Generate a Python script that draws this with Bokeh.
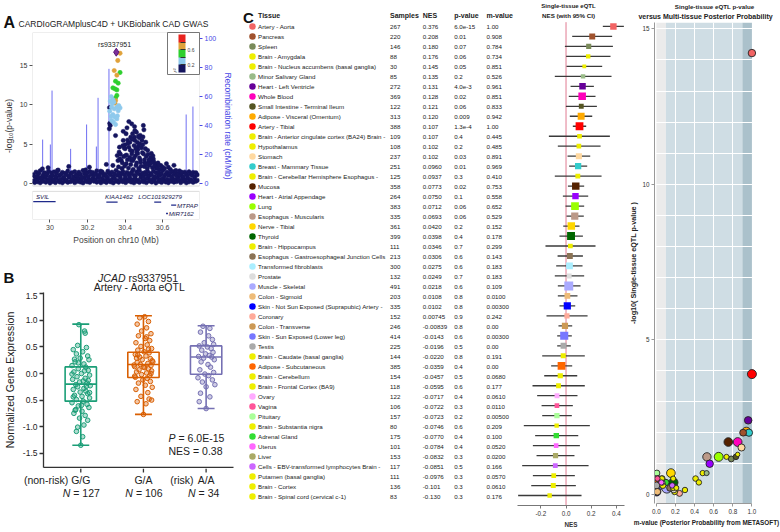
import math
from bokeh.plotting import figure
from bokeh.models import (Range1d, LinearAxis, FixedTicker, ColorBar,
                          LinearColorMapper, ColumnDataSource, BoxAnnotation)
from bokeh.layouts import row, column
from bokeh.core.properties import value
from bokeh.embed import file_html
from bokeh.resources import INLINE

FONT = "Liberation Sans"

# ===================== DATA =====================
# ---- Panel A: regional association plot (chr10, Mb ; -log10 p) ----
lead_snp = "rs9337951"
lead_pos = [30.353]
lead_logp = [16.62]

ld_pos = [30.373, 30.361, 30.342, 30.373, 30.356, 30.349, 30.363, 30.335, 30.346, 30.356,
          30.356, 30.349, 30.349, 30.346,
          30.326, 30.335, 30.321, 30.331, 30.366, 30.356, 30.373, 30.328, 30.342, 30.318,
          30.335, 30.325, 30.346, 30.359, 30.356, 30.328, 30.349, 30.338, 30.363, 30.340]
ld_logp = [16.49, 15.57, 14.30, 14.05, 13.71, 12.95, 12.70, 12.11, 11.98, 11.85,
           11.14, 10.84, 10.50, 10.17,
           11.00, 10.60, 10.43, 10.09, 9.87, 9.66, 9.57, 9.66, 9.45, 9.15,
           8.73, 8.48, 8.40, 8.56, 8.18, 7.97, 7.47, 7.76, 9.20, 10.30]
ld_r2 = [0.7, 0.7, 0.7, 0.5, 0.7, 0.5, 0.5, 0.5, 0.5, 0.5,
         0.5, 0.5, 0.7, 0.7,
         0.3, 0.3, 0.3, 0.3, 0.3, 0.3, 0.3, 0.3, 0.3, 0.3,
         0.3, 0.3, 0.3, 0.3, 0.3, 0.3, 0.3, 0.3, 0.3, 0.3]

bg_pos = [29.912, 29.919, 29.926, 29.934, 29.941, 29.948, 29.956, 29.963, 29.970, 29.978,
          29.985, 29.992, 30.000, 30.007, 30.014, 30.022, 30.029, 30.036, 30.044, 30.051,
          30.058, 30.066, 30.073, 30.080, 30.088, 30.095, 30.102, 30.110, 30.117, 30.124,
          30.132, 30.139, 30.146, 30.154, 30.161, 30.168, 30.176, 30.183, 30.190, 30.198,
          30.205, 30.212, 30.220, 30.227, 30.234, 30.242, 30.249, 30.256, 30.264, 30.271,
          30.278, 30.286, 30.293, 30.300, 30.308, 30.315, 30.322, 30.330, 30.337, 30.344,
          30.352, 30.359, 30.366, 30.374, 30.381, 30.388, 30.396, 30.403, 30.410, 30.418,
          30.425, 30.432, 30.440, 30.447, 30.454, 30.462, 30.469, 30.476, 30.484, 30.491,
          30.498, 30.506, 30.513, 30.520, 30.528, 30.535, 30.542, 30.550, 30.557, 30.564,
          30.572, 30.579, 30.586, 30.594, 30.601, 30.608, 30.616, 30.623, 30.630, 30.638,
          30.645, 30.652, 30.660, 30.667, 30.674, 30.682, 30.689, 30.696, 30.704, 30.711,
          30.718, 30.726, 30.733, 30.740, 30.748, 30.755, 30.762, 30.770, 30.777, 30.785]
bg_logp_low = [0.31, 0.12, 0.55, 0.22, 0.68, 0.09, 0.41, 0.27, 0.73, 0.15,
               0.48, 0.33, 0.06, 0.61, 0.25, 0.44, 0.11, 0.70, 0.36, 0.19,
               0.52, 0.08, 0.63, 0.29, 0.42, 0.14, 0.77, 0.23, 0.50, 0.35,
               0.10, 0.58, 0.26, 0.66, 0.18, 0.45, 0.07, 0.71, 0.32, 0.21,
               0.54, 0.13, 0.39, 0.62, 0.28, 0.47, 0.16, 0.74, 0.30, 0.09,
               0.57, 0.24, 0.43, 0.12, 0.69, 0.34, 0.20, 0.51, 0.07, 0.65,
               0.27, 0.40, 0.15, 0.72, 0.37, 0.22, 0.56, 0.11, 0.46, 0.31,
               0.64, 0.18, 0.49, 0.08, 0.60, 0.26, 0.41, 0.14, 0.75, 0.33,
               0.21, 0.53, 0.10, 0.67, 0.29, 0.44, 0.17, 0.59, 0.36, 0.06,
               0.70, 0.25, 0.48, 0.13, 0.62, 0.35, 0.19, 0.55, 0.09, 0.42,
               0.28, 0.66, 0.16, 0.50, 0.23, 0.73, 0.38, 0.11, 0.58, 0.30,
               0.45, 0.08, 0.63, 0.20, 0.52, 0.34, 0.14, 0.69, 0.27, 0.40]
bg_logp_high = [1.12, 0.86, 1.45, 0.95, 1.28, 1.62, 0.78, 1.05, 1.38, 0.91,
                1.20, 1.55, 0.83, 1.33, 1.02, 1.48, 0.88, 1.25, 1.70, 0.97,
                1.15, 1.41, 0.80, 1.30, 1.08, 1.58, 0.93, 1.22, 1.36, 0.85,
                1.50, 1.10, 0.98, 1.43, 1.18, 0.82, 1.65, 1.27, 1.00, 1.35,
                0.89, 1.52, 1.13, 1.40, 0.94, 1.24, 1.60, 1.06, 0.84, 1.32,
                1.47, 1.01, 1.19, 0.90, 1.56, 1.29, 1.09, 1.44, 0.87, 1.21,
                1.67, 1.04, 1.37, 0.96, 1.26, 1.53, 1.11, 0.81, 1.42, 1.17,
                0.99, 1.34, 1.59, 1.07, 0.92, 1.46, 1.23, 1.63, 1.03, 1.31,
                0.86, 1.39, 1.14, 1.51, 0.95, 1.28, 1.08, 1.57, 0.83, 1.35,
                1.20, 1.48, 1.00, 1.25, 1.66, 0.91, 1.16, 1.43, 1.05, 1.30,
                0.88, 1.54, 1.12, 1.38, 0.97, 1.22, 1.61, 1.02, 1.33, 0.85,
                1.45, 1.18, 0.94, 1.49, 1.27, 1.06, 1.41, 0.90, 1.36, 1.10]

hill_pos = [30.420, 30.435, 30.410, 30.450, 30.497, 30.500, 30.460, 30.450, 30.475, 30.405,
            30.390, 30.430, 30.452, 30.490, 30.510, 30.370, 30.400, 30.420, 30.448, 30.470,
            30.488, 30.520, 30.540, 30.368, 30.402, 30.436, 30.462, 30.498, 30.550, 30.525,
            30.380, 30.442, 30.476, 30.560, 30.358, 30.362, 30.590, 30.620, 30.600, 30.406,
            30.458, 30.502, 30.335, 30.300, 30.630, 30.210, 30.100, 29.990, 29.960, 30.040,
            30.190, 30.270, 30.670, 30.700,
            30.365, 30.372, 30.383, 30.392, 30.398, 30.412, 30.418, 30.425, 30.430, 30.438,
            30.443, 30.455, 30.462, 30.468, 30.473, 30.480, 30.485, 30.492, 30.505, 30.512,
            30.518, 30.530, 30.536, 30.545, 30.552, 30.566, 30.575, 30.585, 30.610, 30.640,
            30.660, 30.400, 30.425, 30.465, 30.480, 30.440, 30.390, 30.316, 30.321, 30.349,
            30.317, 30.318,
            30.375, 30.385, 30.395, 30.408, 30.415, 30.428, 30.433, 30.447, 30.457, 30.467,
            30.478, 30.483, 30.494, 30.503, 30.515, 30.522, 30.533, 30.548, 30.557, 30.572,
            30.388, 30.413, 30.437, 30.452, 30.471, 30.495, 30.508, 30.527, 30.541, 30.580]
hill_logp = [7.84, 7.55, 7.05, 7.20, 7.34, 6.80, 6.50, 5.87, 5.78, 6.30,
             5.45, 5.87, 5.45, 5.45, 5.23, 4.60, 4.40, 4.60, 4.80, 4.70,
             4.50, 4.20, 3.80, 3.96, 3.54, 3.75, 3.96, 3.75, 3.12, 2.70,
             2.90, 2.90, 3.25, 2.50, 3.54, 2.90, 2.28, 2.50, 2.07, 2.50,
             2.28, 2.15, 2.28, 2.41, 2.07, 2.07, 2.15, 2.00, 1.86, 1.65,
             1.73, 1.56, 1.65, 1.44,
             2.10, 3.10, 1.90, 3.40, 2.20, 3.00, 1.95, 3.30, 2.40, 4.10,
             1.80, 3.50, 2.60, 4.30, 1.90, 3.00, 2.20, 3.90, 2.60, 3.40,
             1.90, 2.30, 3.30, 2.00, 2.80, 1.90, 2.60, 1.80, 1.90, 1.80,
             2.30, 4.90, 5.20, 5.20, 6.10, 6.30, 6.60, 6.92, 7.34, 6.07,
             9.60, 7.60,
             3.7, 2.6, 4.5, 3.6, 5.1, 4.2, 2.9, 3.2, 4.4, 3.8,
             5.0, 2.7, 4.9, 3.0, 2.4, 3.7, 2.9, 3.5, 2.2, 2.1,
             4.8, 5.5, 5.6, 6.7, 6.0, 5.9, 4.4, 3.0, 2.6, 2.3]

rec_pos = [29.961, 30.002, 30.011, 30.110, 30.195, 30.247, 30.256, 30.314, 30.725, 30.761]
rec_rate = [30.3, 26.9, 64.1, 23.9, 40.7, 25.5, 59.1, 79.1, 47.6, 53.1]

gene_names = ["SVIL", "KIAA1462", "LOC101929279", "MTPAP", "MIR7162"]
gene_start = [29.911, 30.300, 30.555, 30.645, 30.618]
gene_end = [30.030, 30.360, 30.592, 30.672, 30.628]

r2_ticks = [0.2, 0.4, 0.6, 0.8]

# ---- Panel B: JCAD expression by rs9337951 genotype (Artery - Aorta) ----
geno = ["G/G", "G/A", "A/A"]
geno_prefix = ["(non-risk)", "", "(risk)"]
geno_n = [127, 106, 34]
box_lo = [-1.35, -0.77, -0.66]
box_q1 = [-0.52, -0.075, -0.013]
box_med = [-0.20, 0.17, 0.31]
box_q3 = [0.125, 0.40, 0.52]
box_hi = [0.93, 1.087, 0.90]
gg_expr = [0.92, 0.80, 0.76, 0.53, 0.49, 0.45, 0.41, 0.37, 0.33, 0.29,
           0.26, 0.22, 0.18, 0.15, 0.12, 0.09, 0.06, 0.03, 0.00, -0.03,
           -0.06, -0.09, -0.11, -0.14, -0.16, -0.18, -0.21, -0.23, -0.25, -0.28,
           -0.30, -0.33, -0.35, -0.38, -0.41, -0.43, -0.46, -0.49, -0.52, -0.55,
           -0.58, -0.61, -0.64, -0.68, -0.71, -0.75, -0.79, -0.84, -0.88, -0.97,
           -1.01, -1.09, -1.19, -1.35, 0.27, -0.01, -0.13, -0.24, -0.44, -0.60,
           0.05, -0.36, 0.20, -0.69]
gg_jit = [-0.03, 0.06, 0.07, -0.05, 0.09, -0.12, 0.03, -0.07, 0.11, -0.01,
          0.13, -0.09, 0.05, -0.14, 0.08, -0.04, 0.12, -0.11, 0.01, 0.14,
          -0.06, 0.07, -0.13, 0.04, -0.02, 0.10, -0.08, 0.15, -0.05, 0.05,
          -0.12, 0.08, -0.01, 0.11, -0.10, 0.02, 0.14, -0.07, 0.04, -0.14,
          0.10, -0.04, 0.13, -0.08, 0.02, -0.11, 0.07, -0.02, 0.11, 0.05,
          -0.05, -0.07, 0.03, 0.00, -0.10, -0.14, 0.12, 0.09, -0.12, 0.01,
          0.06, 0.14, -0.04, -0.09]
ga_expr = [1.07, 1.05, 0.98, 0.93, 0.86, 0.80, 0.75, 0.71, 0.66, 0.62,
           0.58, 0.54, 0.51, 0.47, 0.44, 0.41, 0.39, 0.36, 0.33, 0.31,
           0.28, 0.26, 0.24, 0.21, 0.19, 0.17, 0.15, 0.13, 0.11, 0.09,
           0.07, 0.05, 0.03, 0.01, -0.02, -0.04, -0.07, -0.09, -0.12, -0.15,
           -0.18, -0.22, -0.26, -0.30, -0.36, -0.43, -0.48, -0.53, -0.57, -0.77,
           0.16, 0.22, 0.35, 0.00, -0.05, 0.12, 0.29, 0.46, -0.50, 0.69]
ga_jit = [0.02, -0.06, 0.08, -0.10, 0.05, -0.03, 0.12, -0.08, 0.03, 0.10,
          -0.12, 0.06, -0.04, 0.13, -0.09, 0.01, 0.09, -0.13, 0.04, -0.06,
          0.11, -0.02, 0.14, -0.10, 0.07, -0.05, 0.12, -0.14, 0.02, 0.08,
          -0.07, 0.13, -0.11, 0.05, -0.03, 0.10, -0.13, 0.06, -0.01, 0.11,
          -0.08, 0.03, 0.14, -0.12, 0.07, -0.04, 0.09, -0.10, 0.04, 0.00,
          -0.15, 0.15, -0.09, 0.12, -0.14, 0.00, -0.11, 0.08, 0.13, 0.05]
aa_expr = [0.89, 0.85, 0.78, 0.71, 0.64, 0.58, 0.55, 0.52, 0.50, 0.47,
           0.44, 0.40, 0.37, 0.34, 0.32, 0.31, 0.29, 0.26, 0.22, 0.17,
           0.12, 0.07, 0.02, -0.01, -0.04, -0.08, -0.12, -0.16, -0.21, -0.25,
           -0.37, -0.44, -0.53, -0.66]
aa_jit = [-0.05, 0.06, -0.09, 0.04, 0.10, -0.03, 0.12, -0.11, 0.02, 0.08,
          -0.07, 0.11, -0.01, 0.05, -0.12, 0.09, -0.04, 0.13, -0.08, 0.03,
          0.07, -0.10, 0.12, -0.02, 0.04, -0.13, 0.10, -0.06, 0.14, 0.00,
          -0.09, 0.06, -0.11, 0.00]
eqtl_p_text = "6.0E-15"
eqtl_nes_text = "0.38"

# ---- Panel C: multi-tissue eQTL table ----
tissues = ["Artery - Aorta", "Pancreas", "Spleen", "Brain - Amygdala",
           "Brain - Nucleus accumbens (basal ganglia)", "Minor Salivary Gland",
           "Heart - Left Ventricle", "Whole Blood", "Small Intestine - Terminal Ileum",
           "Adipose - Visceral (Omentum)", "Artery - Tibial",
           "Brain - Anterior cingulate cortex (BA24) Brain -", "Hypothalamus", "Stomach",
           "Breast - Mammary Tissue", "Brain - Cerebellar Hemisphere Esophagus -", "Mucosa",
           "Heart - Atrial Appendage", "Lung", "Esophagus - Muscularis", "Nerve - Tibial",
           "Thyroid", "Brain - Hippocampus", "Esophagus - Gastroesophageal Junction Cells",
           "Transformed fibroblasts", "Prostate", "Muscle - Skeletal", "Colon - Sigmoid",
           "Skin - Not Sun Exposed (Suprapubic) Artery -", "Coronary", "Colon - Transverse",
           "Skin - Sun Exposed (Lower leg)", "Testis", "Brain - Caudate (basal ganglia)",
           "Adipose - Subcutaneous", "Brain - Cerebellum", "Brain - Frontal Cortex (BA9)",
           "Ovary", "Vagina", "Pituitary", "Brain - Substantia nigra", "Adrenal Gland",
           "Uterus", "Liver", "Cells - EBV-transformed lymphocytes Brain -",
           "Putamen (basal ganglia)", "Brain - Cortex", "Brain - Spinal cord (cervical c-1)"]
samples = [267, 220, 146, 88, 30, 85, 272, 369, 122, 313,
           388, 109, 108, 237, 251, 125, 358, 264, 383, 335,
           361, 399, 111, 213, 300, 132, 491, 203, 335, 152,
           246, 414, 225, 144, 385, 154, 118, 122, 106, 157,
           80, 175, 101, 153, 117, 111, 136, 83]
nes_txt = ["0.376", "0.208", "0.180", "0.176", "0.145", "0.135", "0.131", "0.128", "0.121", "0.120",
           "0.107", "0.107", "0.102", "0.102", "0.0960", "0.0937", "0.0773", "0.0750", "0.0712", "0.0693",
           "0.0420", "0.0398", "0.0346", "0.0306", "0.0275", "0.0249", "0.0218", "0.0108", "0.0102", "0.00745",
           "-0.00839", "-0.0143", "-0.0196", "-0.0220", "-0.0359", "-0.0457", "-0.0595", "-0.0717", "-0.0722", "-0.0723",
           "-0.0746", "-0.0770", "-0.0784", "-0.0832", "-0.0851", "-0.0976", "-0.101", "-0.130"]
pval_txt = ["6.0e-15", "0.01", "0.07", "0.06", "0.05", "0.2", "4.0e-3", "0.02", "0.06", "0.009",
            "1.3e-4", "0.4", "0.2", "0.03", "0.01", "0.3", "0.02", "0.1", "0.06", "0.06",
            "0.2", "0.4", "0.7", "0.6", "0.6", "0.7", "0.6", "0.8", "0.8", "0.9",
            "0.8", "0.6", "0.5", "0.8", "0.4", "0.5", "0.6", "0.4", "0.3", "0.2",
            "0.6", "0.4", "0.4", "0.3", "0.5", "0.3", "0.3", "0.3"]
mval_txt = ["1.00", "0.908", "0.784", "0.734", "0.851", "0.526", "0.961", "0.851", "0.833", "0.942",
            "1.00", "0.445", "0.485", "0.891", "0.969", "0.410", "0.753", "0.558", "0.652", "0.529",
            "0.152", "0.178", "0.299", "0.143", "0.183", "0.183", "0.109", "0.0100", "0.00300", "0.242",
            "0.00", "0.00300", "0.00", "0.191", "0.00", "0.0680", "0.177", "0.0610", "0.0110", "0.00500",
            "0.209", "0.100", "0.0520", "0.0200", "0.166", "0.0570", "0.0610", "0.176"]
ci_lo = [0.292, 0.049, -0.009, 0.001, 0.004, -0.089, 0.036, 0.022, -0.001, 0.030,
         0.054, -0.136, -0.065, 0.012, 0.025, -0.089, 0.015, -0.025, -0.004, 0.004,
         -0.022, -0.052, -0.163, -0.067, -0.078, -0.089, -0.065, -0.065, -0.052, -0.155,
         -0.060, -0.070, -0.070, -0.189, -0.118, -0.173, -0.266, -0.229, -0.194, -0.189,
         -0.335, -0.245, -0.263, -0.234, -0.348, -0.263, -0.276, -0.380]
ci_hi = [0.459, 0.366, 0.372, 0.353, 0.287, 0.361, 0.221, 0.234, 0.245, 0.208,
         0.160, 0.348, 0.274, 0.192, 0.168, 0.282, 0.144, 0.176, 0.144, 0.141,
         0.107, 0.134, 0.234, 0.134, 0.131, 0.144, 0.115, 0.091, 0.073, 0.171,
         0.049, 0.046, 0.038, 0.149, 0.049, 0.089, 0.149, 0.091, 0.054, 0.046,
         0.189, 0.097, 0.110, 0.067, 0.179, 0.070, 0.078, 0.123]
tissue_colors = ["#f26464", "#a0522d", "#7a8b5a", "#eeee00", "#eeee00", "#99bb88", "#660099", "#ff00bb", "#555522", "#ffaa00",
                 "#ff0000", "#eeee00", "#eeee00", "#ffd9a0", "#33cccc", "#eeee00", "#552200", "#9900ff", "#99ff00", "#bb9988",
                 "#ffd700", "#006600", "#eeee00", "#8b7355", "#aaeeff", "#dddddd", "#aaaaff", "#eebb77", "#0000ff", "#ffaa99",
                 "#cc9955", "#7777ff", "#aaaaaa", "#eeee00", "#ff6600", "#eeee00", "#eeee00", "#ffaaff", "#ff5599", "#aaff99",
                 "#eeee00", "#33dd33", "#ff66ff", "#aaaa66", "#cc66ff", "#eeee00", "#eeee00", "#eeee00"]
headers = ["Tissue", "Samples", "NES", "p-value", "m-value"]

# ===================== STYLE HELPERS =====================
def style_axis(ax, size="7px", color="#333333", line="#555555", label_size="8px",
               label_style="normal", tick_out=3):
    ax.major_label_text_font = FONT
    ax.major_label_text_font_size = size
    ax.major_label_text_color = color
    ax.axis_label_text_font = FONT
    ax.axis_label_text_font_size = label_size
    ax.axis_label_text_font_style = label_style
    ax.axis_label_text_color = color
    ax.axis_line_color = line
    ax.major_tick_line_color = line
    ax.minor_tick_line_color = None
    ax.major_tick_in = 0
    ax.major_tick_out = tick_out
    ax.major_label_standoff = 2
    ax.axis_label_standoff = 2


def base_fig(**kw):
    p = figure(output_backend="svg", toolbar_location=None, **kw)
    p.outline_line_color = None
    p.background_fill_color = "white"
    p.border_fill_color = "white"
    if "frame_align" in p.properties():
        p.frame_align = False
    return p


def strip(width, height, x_range=None):
    """A text-only band whose frame fills the whole canvas (pixel coordinates)."""
    xr = x_range if x_range is not None else Range1d(0, width)
    p = base_fig(width=width, height=height, x_range=xr, y_range=Range1d(height, 0),
                 x_axis_location=None, y_axis_location=None, min_border=0,
                 min_border_left=0, min_border_right=0, min_border_top=0, min_border_bottom=0)
    p.grid.visible = False
    return p


def txt(p, x, y, text, size, style="normal", align="left", color="#222222", x_offset=0):
    xs = x if isinstance(x, list) else [x]
    ys = y if isinstance(y, list) else [y] * len(xs)
    ts = text if isinstance(text, list) else [text] * len(xs)
    p.text(x=xs, y=ys, text=ts, text_font=value(FONT), text_font_size=f"{size}px",
           text_font_style=style, text_align=align, text_baseline="middle",
           text_color=color, x_offset=x_offset)

# ===================== PANEL A =====================
stA = strip(242, 30)
txt(stA, 3, 22, "A", 16, style="bold", color="#111111")
txt(stA, 18, 23, "CARDIoGRAMplusC4D + UKBiobank CAD GWAS", 8.5)

K = 100.0 / 18.35
pA = base_fig(width=242, height=220, x_range=Range1d(29.907, 30.796),
              y_range=Range1d(-4.557, 19.114),
              min_border_left=30, min_border_right=43, min_border_top=2, min_border_bottom=31)
pA.grid.visible = False
pA.extra_y_ranges = {"rec": Range1d(-4.557 * K, 19.114 * K)}

pA.add_layout(BoxAnnotation(bottom=-0.32, fill_color=None, line_color="#8c8c8c", line_width=1))
pA.add_layout(BoxAnnotation(top=-1.0, fill_color=None, line_color="#8c8c8c", line_width=1))

rec_src = ColumnDataSource(dict(pos=rec_pos, rate=rec_rate, zero=[0.0] * len(rec_pos)))
pA.segment(x0="pos", y0="zero", x1="pos", y1="rate", source=rec_src, y_range_name="rec",
           line_color="#6f6ff2", line_width=1)

r2_colors = ["#15155e", "#8ec9ec", "#2ecf2e", "#e0a23a", "#e8231e"]
r2_mapper = LinearColorMapper(palette=r2_colors, low=0, high=1)

nb = min(len(bg_pos), len(bg_logp_low), len(bg_logp_high))
nh = min(len(hill_pos), len(hill_logp))
navy_x = bg_pos[:nb] + bg_pos[:nb] + hill_pos[:nh]
navy_y = bg_logp_low[:nb] + bg_logp_high[:nb] + hill_logp[:nh]
pA.scatter(navy_x, navy_y, size=4.3, fill_color=r2_colors[0], line_color=r2_colors[0], line_width=0.5)

nl = min(len(ld_pos), len(ld_logp), len(ld_r2))
ld_src = ColumnDataSource(dict(pos=ld_pos[:nl], logp=ld_logp[:nl], r2=ld_r2[:nl]))
pA.scatter("pos", "logp", source=ld_src, size=4.3,
           fill_color={"field": "r2", "transform": r2_mapper},
           line_color={"field": "r2", "transform": r2_mapper}, line_width=0.6)
pA.scatter(lead_pos, lead_logp, marker="diamond", size=8, fill_color="#7b2f9a",
           line_color="#5a1a78")

# gene track (row placement of each gene)
gene_row_y = [-2.3, -2.35, -2.35, -2.75, -3.8]
gene_lab_x = [29.925, 30.293, 30.47, 30.676, 30.632]
gene_lab_y = [-1.6, -1.6, -1.6, -2.75, -3.8]
pA.segment(x0=gene_start, y0=gene_row_y, x1=gene_end, y1=gene_row_y,
           line_color="#1f2a8a", line_width=1.3)
txt(pA, gene_lab_x, gene_lab_y, gene_names, 6.2, style="italic", color="#1a1a50")
txt(pA, 30.344, 17.55, lead_snp, 7, align="center")

ya = pA.yaxis[0]
ya.ticker = FixedTicker(ticks=[0, 5, 10, 15])
ya.axis_label = "-log\u2081\u2080(p-value)"
style_axis(ya, size="7px", label_size="8.5px")
ya.axis_line_color = None
ya.axis_label_standoff = 3

xa = pA.xaxis[0]
xa.ticker = FixedTicker(ticks=[30, 30.2, 30.4, 30.6])
xa.major_label_overrides = {30: "30", 30.2: "30.2", 30.4: "30.4", 30.6: "30.6"}
xa.axis_label = "Position on chr10 (Mb)"
style_axis(xa, size="7px", label_size="8.5px", color="#444444")
xa.axis_line_color = None

rax = LinearAxis(y_range_name="rec", ticker=FixedTicker(ticks=[0, 20, 40, 60, 80, 100]),
                 axis_label="Recombination rate (cM/Mb)")
style_axis(rax, size="7px", color="#4848e6", line="#4848e6", label_size="8.5px")
rax.axis_line_color = None
rax.axis_label_standoff = 4
pA.add_layout(rax, "right")

cb = ColorBar(color_mapper=r2_mapper, ticker=FixedTicker(ticks=r2_ticks), orientation="vertical",
              width=7, height=38, location="top_right", title="r\u00b2",
              title_text_font_size="6px", title_text_font=FONT, title_standoff=1,
              major_label_text_font_size="5px", major_label_text_font=FONT,
              label_standoff=2, padding=2, margin=0, border_line_color="#777777",
              bar_line_color=None, major_tick_line_color="#333333")
pA.add_layout(cb)

# ===================== PANEL B =====================
stB = strip(242, 42)
txt(stB, 3, 27, "B", 15, style="bold", color="#111111")
txt(stB, 125, 27, "JCAD", 10.5, style="italic", align="right")
txt(stB, 128, 27, lead_snp, 10.5)
txt(stB, 139, 36.5, "Artery - Aorta eQTL", 10.5, align="center")

B_x = lambda px: 0.405 + (px - 43) / 62.66
pB = base_fig(width=242, height=176, x_range=Range1d(0.405, 3.437), y_range=Range1d(-1.77, 1.526),
              min_border_left=43, min_border_right=9, min_border_top=0, min_border_bottom=1)
pB.grid.visible = False
geno_x = [1, 2, 3]
geno_colors = ["#1b9e77", "#d95f02", "#7570b3"]
half = 0.25
cap = 0.135
pB.quad(left=[g - half for g in geno_x], right=[g + half for g in geno_x], bottom=box_q1, top=box_q3,
        fill_color=None, line_color=geno_colors, line_width=1.6)
pB.segment(x0=[g - half for g in geno_x], y0=box_med, x1=[g + half for g in geno_x], y1=box_med,
           line_color=geno_colors, line_width=1.6)
pB.segment(x0=geno_x, y0=box_q3, x1=geno_x, y1=box_hi, line_color=geno_colors, line_width=1.6)
pB.segment(x0=geno_x, y0=box_lo, x1=geno_x, y1=box_q1, line_color=geno_colors, line_width=1.6)
pB.segment(x0=[g - cap for g in geno_x], y0=box_hi, x1=[g + cap for g in geno_x], y1=box_hi,
           line_color=geno_colors, line_width=1.6)
pB.segment(x0=[g - cap for g in geno_x], y0=box_lo, x1=[g + cap for g in geno_x], y1=box_lo,
           line_color=geno_colors, line_width=1.6)
for gx, ys, js, col in [(1, gg_expr, gg_jit, geno_colors[0]), (2, ga_expr, ga_jit, geno_colors[1]),
                        (3, aa_expr, aa_jit, geno_colors[2])]:
    n = min(len(ys), len(js))
    pB.scatter([gx + j for j in js[:n]], ys[:n], size=4.6, fill_color=col, fill_alpha=0.35,
               line_color=col, line_width=1)

B_y = lambda py: -1.77 + (467 - py) / 53.1
txt(pB, B_x(168), B_y(437), "P", 10.5, style="italic")
txt(pB, B_x(178), B_y(437), f"= {eqtl_p_text}", 10.5)
txt(pB, B_x(168), B_y(450), f"NES = {eqtl_nes_text}", 10.5)

yb = pB.yaxis[0]
yb.ticker = FixedTicker(ticks=[-1.5, -1.0, -0.5, 0.0, 0.5, 1.0, 1.5])
yb.major_label_overrides = {1.5: "1.5", 1.0: "1.0", 0.5: "0.5", 0.0: "0.0", -0.5: "0.5",
                            -1.0: "-1.0", -1.5: "-1.5"}
yb.axis_label = "Normalized Gene Expression"
style_axis(yb, size="8.5px", color="#222222", line="#333333", label_size="10.5px", tick_out=4)
yb.axis_line_width = 1.3
yb.major_tick_line_width = 1.3
yb.axis_label_standoff = 4
xb = pB.xaxis[0]
xb.ticker = FixedTicker(ticks=[])
style_axis(xb, size="8px", color="#222222", line="#333333", tick_out=0)
xb.axis_line_width = 1.3

sbB = strip(242, 62, x_range=Range1d(B_x(0), B_x(242)))
sbB.segment(x0=geno_x, y0=[0] * 3, x1=geno_x, y1=[4] * 3, line_color="#333333", line_width=1.3)
txt(sbB, geno_x, 11, geno, 10.5, align="center")
txt(sbB, [1, 3], 11, [geno_prefix[0], geno_prefix[2]], 10.5, align="right", x_offset=-12.5)
txt(sbB, geno_x, 24, "N", 10.5, style="italic", align="right", x_offset=-10.5)
txt(sbB, geno_x, 24, [f"= {n}" for n in geno_n], 10.5, align="left", x_offset=-7.5)

# ===================== PANEL C: table =====================
N = len(tissues)
rows_idx = list(range(N))
rows_range = Range1d(48.0, -2.6)
tsrc = ColumnDataSource(dict(row=rows_idx, tissue=tissues, samples=[str(s) for s in samples],
                             nes=nes_txt, p=pval_txt, m=mval_txt, color=tissue_colors))

pT = base_fig(width=272, height=530, x_range=Range1d(242, 514), y_range=rows_range,
              x_axis_location=None, y_axis_location=None,
              min_border_left=0, min_border_right=0, min_border_top=0, min_border_bottom=24)
pT.grid.visible = False
col_x = {"dot": 252, "tissue": 257.5, "samples": 389.5, "nes": 422.3, "p": 453.7, "m": 486}
pT.scatter(x=col_x["dot"], y="row", source=tsrc, size=6.5, fill_color="color", line_color=None)
txt_kw = dict(text_font=value(FONT), text_font_size="6.2px", text_baseline="middle",
              text_align="left", text_color="#222222")
for key in ["tissue", "samples", "nes", "p", "m"]:
    pT.text(x=col_x[key], y="row", text=key, source=tsrc, **txt_kw)
txt(pT, [col_x["tissue"], col_x["samples"], col_x["nes"], col_x["p"], col_x["m"]], -1.13,
    headers, 7, style="bold")
txt(pT, 242.5, -0.9, "C", 15, style="bold", color="#111111")

# ===================== PANEL C: forest =====================
nes_val = [float(v) for v in nes_txt]
fsrc = ColumnDataSource(dict(row=rows_idx, nes=nes_val, lo=ci_lo, hi=ci_hi, color=tissue_colors,
                             size=[3.5 + 0.011 * s for s in samples]))
pF = base_fig(width=112, height=530, x_range=Range1d(-0.385, 0.464), y_range=rows_range,
              y_axis_location=None,
              min_border_left=3, min_border_right=2, min_border_top=0, min_border_bottom=24)
pF.grid.visible = False
pF.segment(x0=0, y0=-0.43, x1=0, y1=48.0, line_color="#e07a92", line_width=1)
pF.segment(x0="lo", y0="row", x1="hi", y1="row", source=fsrc, line_color="#3a3a3a", line_width=1.3)
pF.scatter(x="nes", y="row", source=fsrc, marker="square", size="size", fill_color="color",
           line_color=None)
xf = pF.xaxis[0]
xf.ticker = FixedTicker(ticks=[-0.2, 0.0, 0.2, 0.4])
xf.major_label_overrides = {-0.2: "-0.2", 0.0: "0.0", 0.2: "0.2", 0.4: "0.4"}
xf.axis_label = "NES"
style_axis(xf, size="6.3px", color="#333333", line="#777777", label_size="6.3px",
           label_style="bold")
F_x = lambda px: -0.385 + (px - 517) / 126.0
txt(pF, F_x(568), -2.0, "Single-tissue eQTL", 6, style="bold", align="center")
txt(pF, F_x(568), -1.1, "NES (with 95% CI)", 6.2, style="bold", align="center")

# ===================== PANEL C: m-value scatter =====================
stS = strip(154, 22, x_range=Range1d(626, 780))
txt(stS, 714, 6, "Single-tissue eQTL p-value", 6.2, style="bold", align="center")
txt(stS, 705, 15.5, "versus Multi-tissue Posterior Probability", 7.0, style="bold", align="center")

mval = [float(v) for v in mval_txt]
logp = [-math.log10(float(v)) for v in pval_txt]
order = sorted(range(N), key=lambda i: -samples[i])
ssrc = ColumnDataSource(dict(m=[mval[i] for i in order], lp=[logp[i] for i in order],
                             color=[tissue_colors[i] for i in order],
                             size=[4 + 0.013 * samples[i] for i in order]))
pS = base_fig(width=154, height=508, x_range=Range1d(-0.0198, 1.069), y_range=Range1d(-0.28, 15.206),
              min_border_left=22, min_border_right=22, min_border_top=0, min_border_bottom=27)
for lo_, hi_, col in [(0.0, 0.1, "#ebebeb"), (0.1, 0.9, "#cfdde4"), (0.9, 1.0, "#abc1cb")]:
    pS.add_layout(BoxAnnotation(left=lo_, right=hi_, fill_color=col, fill_alpha=1,
                                line_color=None, level="image"))
pS.xgrid.ticker = FixedTicker(ticks=[0.2, 0.4, 0.6, 0.8])
pS.ygrid.ticker = FixedTicker(ticks=list(range(1, 16)))
pS.grid.grid_line_color = "white"
pS.grid.grid_line_width = 1
pS.scatter("m", "lp", source=ssrc, size="size", fill_color="color", line_color="#222222",
           line_width=0.9)
xs = pS.xaxis[0]
xs.ticker = FixedTicker(ticks=[0.0, 0.2, 0.4, 0.6, 0.8, 1.0])
xs.major_label_overrides = {0.0: "0.0", 0.2: "0.2", 0.4: "0.4", 0.6: "0.6", 0.8: "0.8", 1.0: "1.0"}
xs.bounds = (0, 1)
xs.axis_label = "m-value (Posterior Probability from METASOFT)"
style_axis(xs, size="6.3px", color="#333333", line="#999999", label_size="6.4px",
           label_style="bold")
xs.axis_label_text_color = "#222222"
ys_ = pS.yaxis[0]
ys_.ticker = FixedTicker(ticks=[0, 5, 10, 15])
ys_.axis_label = "-log10( Single-tissue eQTL p-value )"
style_axis(ys_, size="6.3px", color="#333333", line="#999999", label_size="7.2px",
           label_style="bold")
ys_.axis_label_text_color = "#222222"
ys_.axis_label_standoff = 1

layout = row(column(stA, pA, stB, pB, sbB), pT, pF, column(stS, pS))
open("out.html", "w").write(file_html(layout, INLINE, title="JCAD eQTL"))
